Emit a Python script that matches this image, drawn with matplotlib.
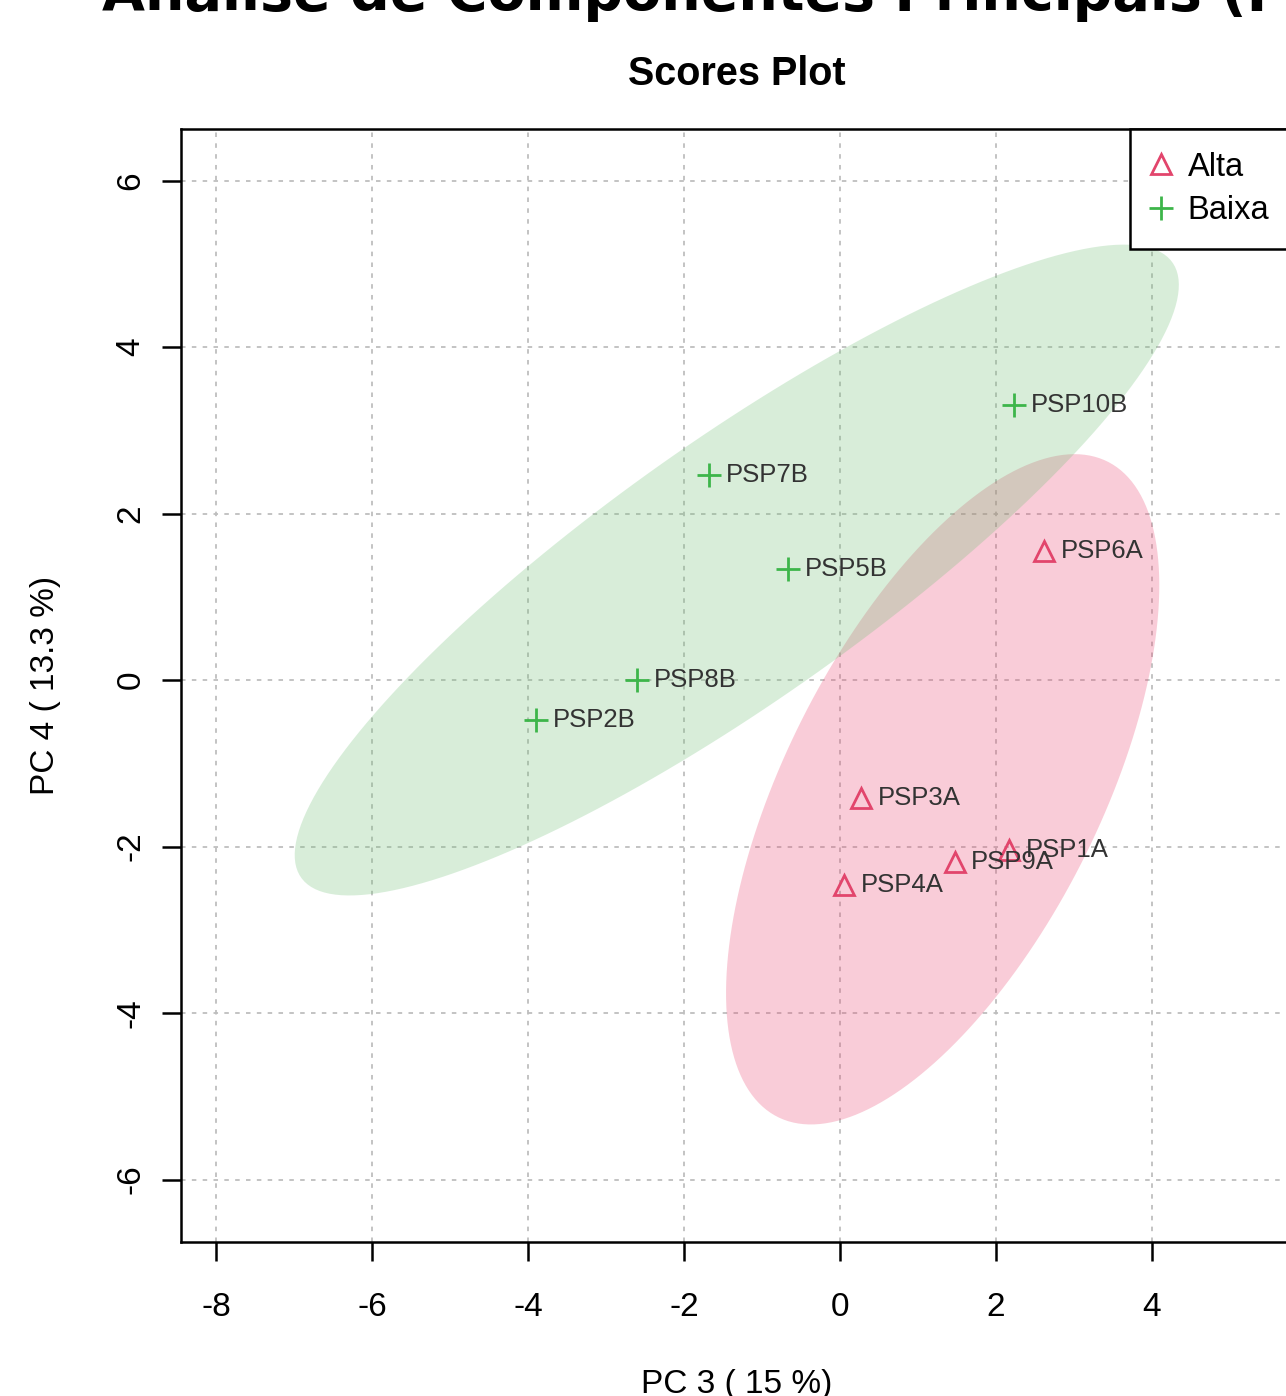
import matplotlib
matplotlib.use("Agg")
import matplotlib.pyplot as plt
import numpy as np

# scores (PC3, PC4)
names_alta = ["PSP6A", "PSP3A", "PSP1A", "PSP9A", "PSP4A"]
pc3_alta = [2.62, 0.27, 2.17, 1.47, 0.05]
pc4_alta = [1.55, -1.42, -2.04, -2.19, -2.46]

names_baixa = ["PSP10B", "PSP7B", "PSP5B", "PSP8B", "PSP2B"]
pc3_baixa = [2.23, -1.68, -0.67, -2.60, -3.90]
pc4_baixa = [3.30, 2.46, 1.33, 0.00, -0.48]

xticks = [-8, -6, -4, -2, 0, 2, 4]
yticks = [-6, -4, -2, 0, 2, 4, 6]

RED = "#E2456C"
GREEN = "#3DB54A"
RED_FILL = "#E9466F"
GREEN_FILL = "#6FC076"
TXT = "#333333"


def conf_ellipse(x, y, level=0.95, n=200):
    # 95% normal ellipse like R's ellipse::ellipse(cov, centre)
    x = np.asarray(x)
    y = np.asarray(y)
    cov = np.cov(x, y)
    vals, vecs = np.linalg.eigh(cov)
    t = np.sqrt(-2 * np.log(1 - level))
    a = np.linspace(0, 2 * np.pi, n)
    circ = np.vstack([np.cos(a), np.sin(a)])
    pts = vecs @ (np.sqrt(vals)[:, None] * circ) * t
    return pts[0] + x.mean(), pts[1] + y.mean()


plt.rcParams["font.family"] = ["Liberation Sans", "DejaVu Sans"]
plt.rcParams["axes.unicode_minus"] = False

W, H = 1286, 1396
fig = plt.figure(figsize=(W / 100, H / 100), dpi=100)
ax = fig.add_axes([181 / W, 154 / H, (1292 - 181) / W, (1267 - 154) / H])

ex, ey = conf_ellipse(pc3_alta, pc4_alta)
ax.fill(ex, ey, color=RED_FILL, alpha=0.27, lw=0, zorder=1)
ex, ey = conf_ellipse(pc3_baixa, pc4_baixa)
ax.fill(ex, ey, color=GREEN_FILL, alpha=0.27, lw=0, zorder=1)

ax.plot(pc3_alta, pc4_alta, ls="none", marker="^", ms=14, mfc="none",
        mec=RED, mew=2, zorder=3, label="Alta")
ax.plot(pc3_baixa, pc4_baixa, ls="none", marker="+", ms=17,
        mec=GREEN, mew=2, zorder=3, label="Baixa")

for xs, ys, ns in [(pc3_alta, pc4_alta, names_alta),
                   (pc3_baixa, pc4_baixa, names_baixa)]:
    for x, y, n in zip(xs, ys, ns):
        ax.annotate(n, (x, y), xytext=(12, 0), textcoords="offset points",
                    ha="left", va="center", fontsize=18.5, color=TXT, zorder=4)

ax.set_xlim(-8.45, 5.795)
ax.set_ylim(-6.75, 6.62)
ax.set_xticks(xticks)
ax.set_yticks(yticks)
ax.grid(True, color="#BEBEBE", lw=1.3, ls=(0, (2.5, 3.5)), zorder=0)
ax.set_axisbelow(True)

for s in ax.spines.values():
    s.set_linewidth(1.8)
ax.tick_params(length=14, width=1.8, labelsize=24, color="black")
ax.tick_params(axis="x", pad=22)
ax.tick_params(axis="y", pad=11, labelrotation=90)
for lab in ax.get_yticklabels():
    lab.set_va("center")

leg = ax.legend(loc="upper right", borderaxespad=0, fontsize=23.5,
                fancybox=False, framealpha=1, edgecolor="black",
                borderpad=0.7, labelspacing=0.38, handlelength=0.45,
                handletextpad=0.6)
leg.get_frame().set_linewidth(1.8)
leg.set_zorder(5)

ax.set_title("Scores Plot", fontsize=28.5, fontweight="bold", pad=32)

fig.text(737 / W, 1 - 1384 / H, "PC 3 ( 15 %)", ha="center", va="center",
         fontsize=24)
fig.text(46 / W, 1 - 685 / H, "PC 4 ( 13.3 %)", ha="center", va="center",
         fontsize=24, rotation=90)

fig.text(102 / W, 1 - 10 / H, "Análise de Componentes Principais (PCA)",
         ha="left", va="baseline", fontsize=40, fontweight="bold",
         family="DejaVu Sans")

fig.savefig("out.png", dpi=100)
